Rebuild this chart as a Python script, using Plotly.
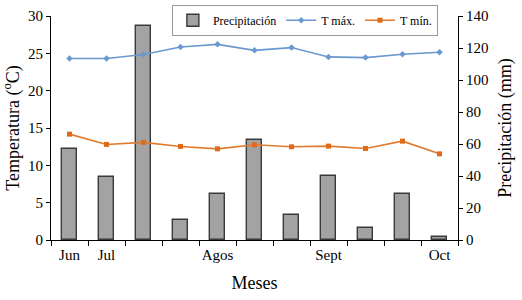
import plotly.graph_objects as go

x_pos = list(range(1, 12))
month_tick_pos = [1, 2, 5, 8, 11]
month_labels = ["Jun", "Jul", "Agos", "Sept", "Oct"]
boundaries = [0.5 + i for i in range(12)]

precip_mm = [57, 39.5, 134, 12.5, 28.7, 62.8, 15.4, 40, 7.3, 28.7, 1.7]
t_max = [24.3, 24.3, 24.85, 25.85, 26.2, 25.4, 25.77, 24.52, 24.43, 24.88, 25.14]
t_min = [14.18, 12.8, 13.07, 12.53, 12.21, 12.75, 12.48, 12.57, 12.26, 13.24, 11.54]

FONT = "Liberation Serif"

fig = go.Figure()
fig.add_trace(go.Bar(
    x=x_pos, y=precip_mm, name="Precipitación", width=0.42,
    marker=dict(color="#A3A3A3", line=dict(color="#3A3A3A", width=1.4)),
    yaxis="y",
))
fig.add_trace(go.Scatter(
    x=x_pos, y=t_max, name="T máx.", mode="lines+markers",
    line=dict(color="#6A99D0", width=1.6),
    marker=dict(symbol="diamond", size=5, color="#6A99D0"),
    yaxis="y2",
))
fig.add_trace(go.Scatter(
    x=x_pos, y=t_min, name="T mín.", mode="lines+markers",
    line=dict(color="#E07B2E", width=1.6),
    marker=dict(symbol="square", size=5, color="#E06A1A"),
    yaxis="y2",
))

fig.update_layout(
    width=522, height=300,
    margin=dict(l=51, r=64, t=16, b=60, autoexpand=False),
    paper_bgcolor="white", plot_bgcolor="white",
    font=dict(family=FONT, size=15, color="black"),
    bargap=0,
    xaxis=dict(
        range=[0.5, 11.5], tickmode="array", tickvals=month_tick_pos, ticktext=month_labels,
        ticks="outside", ticklen=1, tickcolor="rgba(0,0,0,0)",
        showline=True, linecolor="black", linewidth=1.2, showgrid=False, zeroline=False,
        minor=dict(tickmode="array", tickvals=boundaries, ticks="outside", ticklen=5,
                   tickcolor="black", tickwidth=1.2, showgrid=False),
        title=dict(text="Meses", font=dict(size=18), standoff=14),
        tickfont=dict(size=15),
    ),
    yaxis=dict(
        side="right", range=[0, 140], dtick=20, tick0=0,
        ticks="outside", ticklen=4, tickcolor="black", tickwidth=1.2,
        showline=True, linecolor="black", linewidth=1.2, showgrid=False, zeroline=False,
        title=dict(text="Precipitación (mm)", font=dict(size=18), standoff=10),
        tickfont=dict(size=15),
    ),
    yaxis2=dict(
        overlaying="y", side="left", anchor="x", range=[0, 30], dtick=5, tick0=0,
        ticks="outside", ticklen=4, tickcolor="black", tickwidth=1.2,
        showline=True, linecolor="black", linewidth=1.2, showgrid=False, zeroline=False,
        title=dict(text="Temperatura (<sup>o</sup>C)", font=dict(size=18), standoff=6),
        tickfont=dict(size=15),
    ),
    legend=dict(
        orientation="h", x=0.297, y=1.05, xanchor="left", yanchor="top",
        bordercolor="#9A9A9A", borderwidth=1, bgcolor="white",
        font=dict(size=12), itemwidth=30, tracegroupgap=0,
    ),
    showlegend=True,
)

fig.write_html("out.html", config={"displayModeBar": False},
               post_script="document.body.style.margin='0';")
